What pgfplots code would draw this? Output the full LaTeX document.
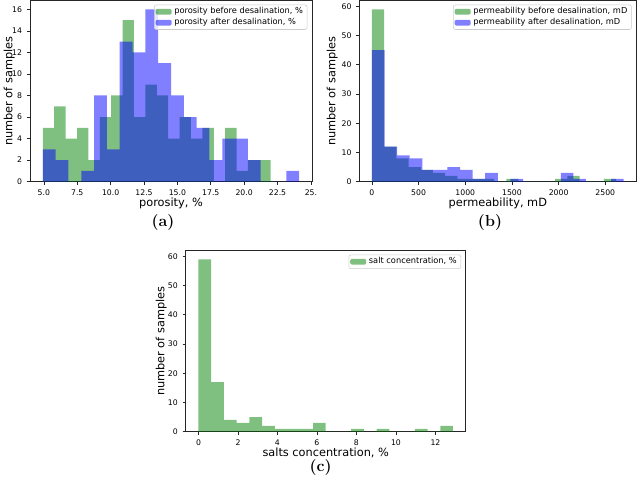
\documentclass[border=0pt]{standalone}
\usepackage{fontspec}
\newfontfamily\dv{DejaVu Sans}
\newfontfamily\lmb{lmroman12-bold.otf}
\usepackage{pgfplots}
\pgfplotsset{compat=1.18}
\definecolor{mgreen}{RGB}{0,128,0}
\definecolor{mblue}{RGB}{0,0,255}
\pgfplotsset{
  histax/.style={
    scale only axis, height=135.75pt,
    axis line style={black!85, line width=0.5pt},
    tick align=outside, tick pos=left,
    major tick length=2.4pt,
    tick style={black!85, line width=0.5pt},
    ticklabel style={font=\dv\fontsize{5.8}{7}\selectfont},
    label style={font=\dv\fontsize{8.5}{10}\selectfont},
    xlabel style={at={(axis description cs:0.5,0)}, anchor=north, inner sep=0pt, yshift=-12pt},
    ylabel style={at={(axis description cs:0,0.5)}, anchor=south, inner sep=0pt},
    /pgf/number format/assume math mode=true,
    /pgf/number format/1000 sep={},
    ylabel={number of samples},
    legend cell align=left,
    legend style={at={(1,1)}, anchor=north east, xshift=-3.5pt, yshift=-3pt,
      font=\dv\fontsize{6.2}{7.5}\selectfont, draw=black!20, rounded corners=1.5pt,
      fill=white, fill opacity=0.8, text opacity=1, inner sep=1pt,
      nodes={inner ysep=1pt, inner xsep=2pt}, row sep=0pt},
  },
  hist/.style={ybar interval, draw=none, fill=#1, fill opacity=0.5,
    legend image code/.code={\fill[##1] (0pt,-2.2pt) rectangle (12pt,2.2pt);}},
}

\begin{document}
\begin{tikzpicture}
\useasboundingbox (0,0) rectangle (480pt,-360pt);

% (a) porosity
\begin{axis}[histax, at={(22.5pt,-0.5pt)}, anchor=north west, width=211.5pt,
  xmin=3.96, xmax=25.08, ymin=0, ymax=16.8,
  xtick={5,7.5,10,12.5,15,17.5,20,22.5,25},
  xticklabels={5.0,7.5,10.0,12.5,15.0,17.5,20.0,22.5,25.},
  ytick={0,2,...,16}, xlabel={porosity, \%},
  ylabel style={yshift=11.25pt}]
\addplot[hist=mgreen] coordinates {
  (4.920,5) (5.774,7) (6.627,4) (7.481,5) (8.334,2) (9.188,6) (10.041,8)
  (10.895,15) (11.748,6) (12.602,9) (13.455,8) (14.309,4) (15.162,6)
  (16.016,4) (16.869,5) (17.723,0) (18.576,5) (19.430,1) (20.283,2)
  (21.137,2) (21.990,2)};
\addlegendentry{porosity before desalination, \%}
\addplot[hist=mblue] coordinates {
  (4.92,3) (5.88,2) (6.84,0) (7.80,1) (8.76,8) (9.72,3) (10.68,13)
  (11.64,12) (12.60,16) (13.56,11) (14.52,8) (15.48,6) (16.44,5)
  (17.40,2) (18.36,4) (19.32,4) (20.28,2) (21.24,0) (22.20,0)
  (23.16,1) (24.12,1)};
\addlegendentry{porosity after desalination, \%}
\end{axis}

% (b) permeability
\begin{axis}[histax, at={(269.5pt,-0.5pt)}, anchor=north west, width=207.75pt,
  xmin=-135, xmax=2833, ymin=0, ymax=61.95,
  xtick={0,500,...,2500}, ytick={0,10,...,60},
  xlabel={permeability, mD}, ylabel style={yshift=16pt}]
\addplot[hist=mgreen] coordinates {
  (0,59) (130.9,12) (261.7,8) (392.6,5) (523.4,4) (654.3,3) (785.1,2)
  (916.0,1) (1046.8,1) (1177.7,1) (1308.5,0) (1439.4,1) (1570.2,0)
  (1701.1,0) (1831.9,0) (1962.8,1) (2093.6,2) (2224.5,0) (2355.3,0)
  (2486.2,1) (2617,1)};
\addlegendentry{permeability before desalination, mD}
\addplot[hist=mblue] coordinates {
  (0,45) (134.9,12) (269.8,9) (404.7,8) (539.6,4) (674.5,4) (809.4,5)
  (944.3,4) (1079.2,1) (1214.1,3) (1349,0) (1483.9,1) (1618.8,0)
  (1753.7,0) (1888.6,0) (2023.5,3) (2158.4,1) (2293.3,0) (2428.2,0)
  (2563.1,1) (2698,1)};
\addlegendentry{permeability after desalination, mD}
\end{axis}

% (c) salt concentration
\begin{axis}[histax, at={(139.3pt,-188pt)}, anchor=north west, width=210pt,
  xmin=-0.645, xmax=13.535, ymin=0, ymax=61.95,
  xtick={0,2,...,12}, ytick={0,10,...,60},
  xlabel={salts concentration, \%}, ylabel style={yshift=14pt}]
\addplot[hist=mgreen] coordinates {
  (0,59) (0.645,17) (1.289,4) (1.934,3) (2.578,5) (3.223,2) (3.867,1)
  (4.512,1) (5.156,1) (5.801,3) (6.445,0) (7.090,0) (7.734,1) (8.379,0)
  (9.023,1) (9.668,0) (10.312,0) (10.957,1) (11.601,0) (12.246,2)
  (12.890,2)};
\addlegendentry{salt concentration, \%}
\end{axis}

\node[font=\lmb\fontsize{12}{14}\selectfont] at (122.25pt,-167.25pt) {(a)};
\node[font=\lmb\fontsize{12}{14}\selectfont] at (367.5pt,-167.25pt) {(b)};
\node[font=\lmb\fontsize{12}{14}\selectfont] at (240.5pt,-350.25pt) {(c)};
\end{tikzpicture}
\end{document}
